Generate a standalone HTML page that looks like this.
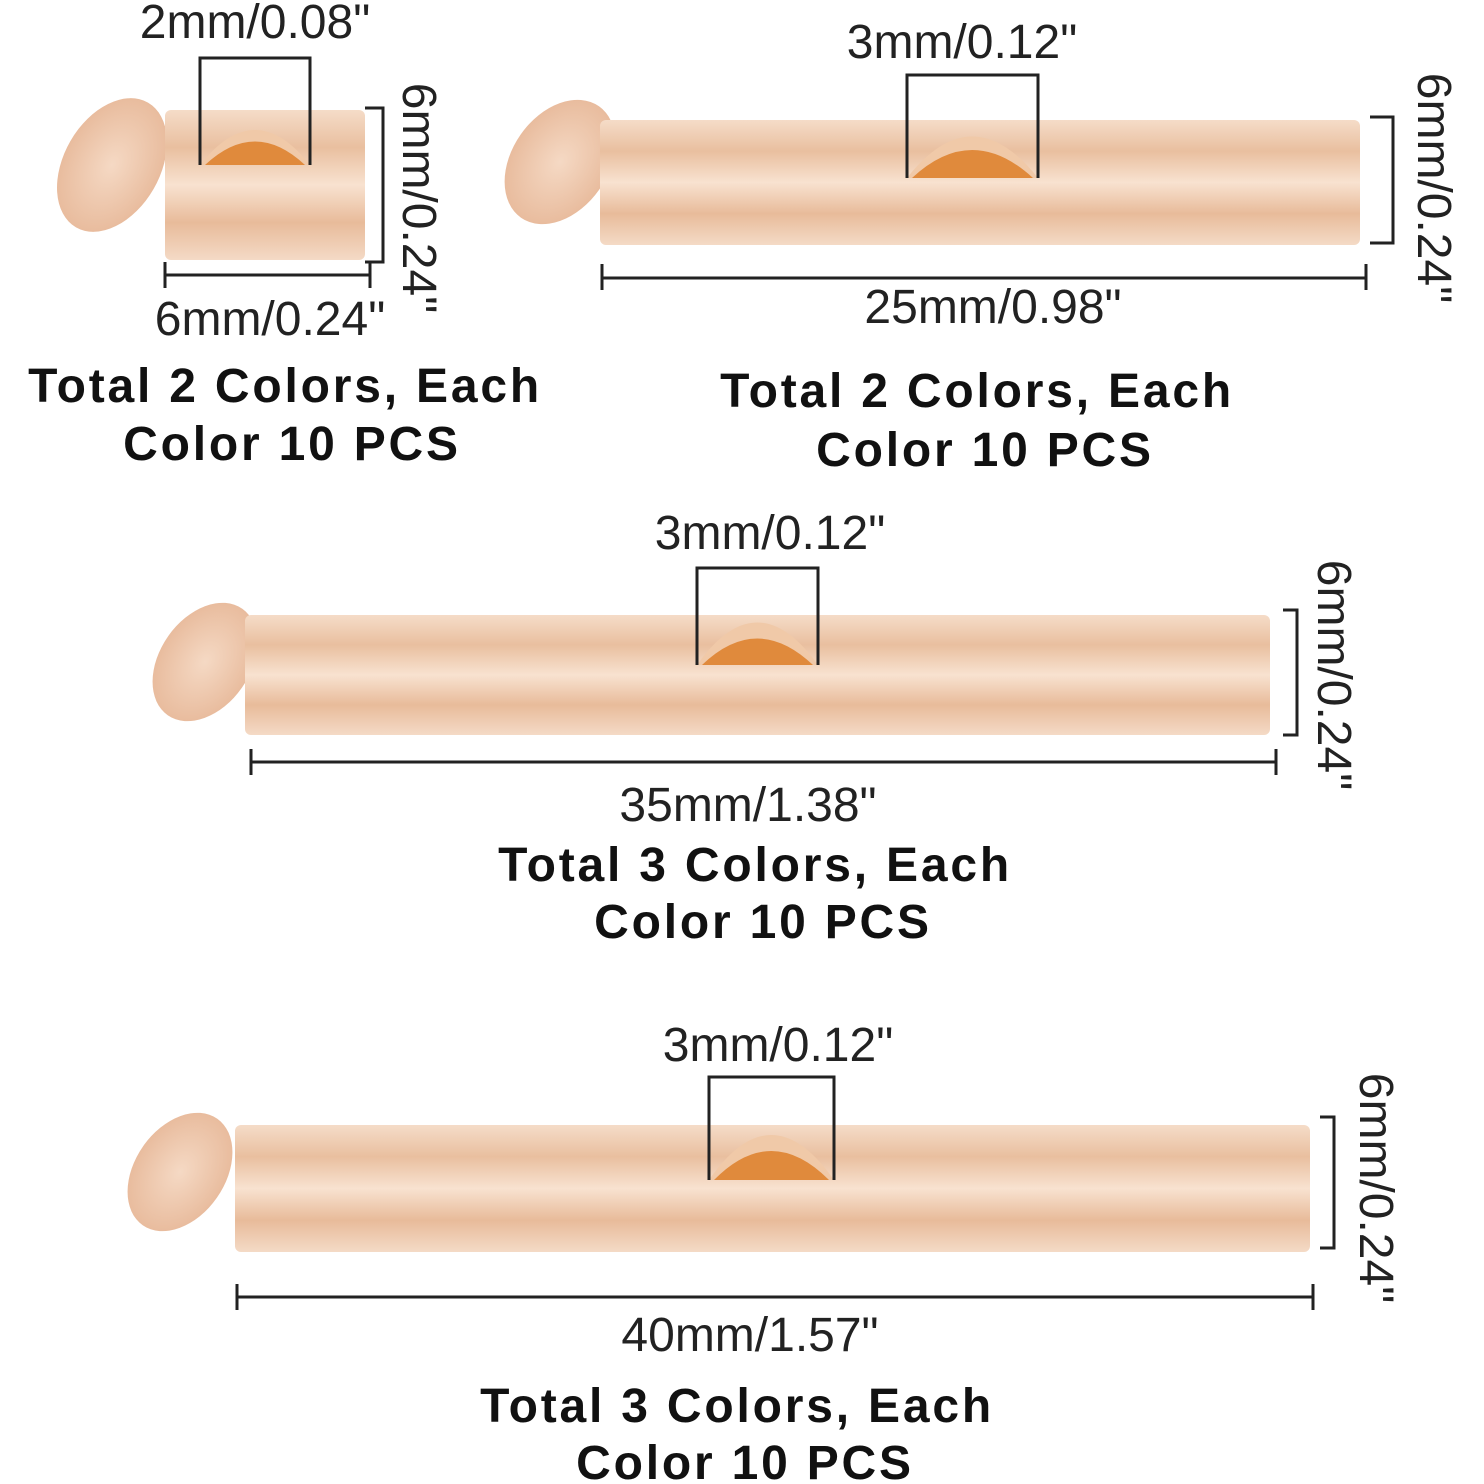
<!DOCTYPE html>
<html><head><meta charset="utf-8"><style>
html,body{margin:0;padding:0;background:#fff;}
svg{display:block}
text{font-family:"Liberation Sans",sans-serif;fill:#222}
.d{font-size:48px}
.b{font-size:48px;font-weight:bold;fill:#111;letter-spacing:2.8px}
.l{stroke:#222;stroke-width:3;fill:none}
</style></head><body>
<svg width="1484" height="1484" viewBox="0 0 1484 1484" xmlns="http://www.w3.org/2000/svg">
<defs>
<linearGradient id="g" x1="0" y1="0" x2="0" y2="1">
<stop offset="0" stop-color="#f5dcc8"/>
<stop offset="0.25" stop-color="#e9bf9f"/>
<stop offset="0.5" stop-color="#f8e2d0"/>
<stop offset="0.75" stop-color="#e8bb9a"/>
<stop offset="1" stop-color="#f4dac6"/>
</linearGradient>
<radialGradient id="dg" cx="0.5" cy="0.5" r="0.6">
<stop offset="0" stop-color="#f5d9c4"/>
<stop offset="1" stop-color="#e6b696"/>
</radialGradient>
</defs>
<rect width="1484" height="1484" fill="#fff"/>

<!-- Piece 1 -->
<ellipse cx="112" cy="165" rx="48" ry="72" transform="rotate(30 112 165)" fill="url(#dg)"/>
<rect x="165" y="110" width="200" height="150" rx="6" fill="url(#g)"/>
<path d="M200 165 Q255 95 310 165 Z" fill="#f0c9a8"/>
<path d="M205 165 Q255 118 305 165 Z" fill="#e08a3c"/>
<path class="l" d="M200 165 V58 H310 V165"/>
<path class="l" d="M365 108 H383 V262 H365"/>
<path class="l" d="M165 262 V288 M165 275 H370 M370 262 V288"/>
<text class="d" x="255" y="38" text-anchor="middle">2mm/0.08"</text>
<text class="d" x="270" y="335" text-anchor="middle">6mm/0.24"</text>
<text class="d" transform="translate(403 198) rotate(90)" text-anchor="middle">6mm/0.24"</text>
<text class="b" x="285" y="402" text-anchor="middle">Total 2 Colors, Each</text>
<text class="b" x="292" y="460" text-anchor="middle">Color 10 PCS</text>

<!-- Piece 2 -->
<ellipse cx="560" cy="162" rx="48" ry="68" transform="rotate(35 560 162)" fill="url(#dg)"/>
<rect x="600" y="120" width="760" height="125" rx="6" fill="url(#g)"/>
<path d="M907 178 Q972 95 1038 178 Z" fill="#f0c9a8"/>
<path d="M912 178 Q972 122 1033 178 Z" fill="#e08a3c"/>
<path class="l" d="M907 178 V75 H1038 V178"/>
<path class="l" d="M1370 117 H1393 V243 H1370"/>
<path class="l" d="M602 264 V290 M602 278 H1366 M1366 264 V290"/>
<text class="d" x="962" y="58" text-anchor="middle">3mm/0.12"</text>
<text class="d" x="993" y="323" text-anchor="middle">25mm/0.98"</text>
<text class="d" transform="translate(1418 188) rotate(90)" text-anchor="middle">6mm/0.24"</text>
<text class="b" x="977" y="407" text-anchor="middle">Total 2 Colors, Each</text>
<text class="b" x="985" y="466" text-anchor="middle">Color 10 PCS</text>

<!-- Piece 3 -->
<ellipse cx="205" cy="662" rx="45" ry="65" transform="rotate(35 205 662)" fill="url(#dg)"/>
<rect x="245" y="615" width="1025" height="120" rx="6" fill="url(#g)"/>
<path d="M697 665 Q757 580 818 665 Z" fill="#f0c9a8"/>
<path d="M702 665 Q757 612 813 665 Z" fill="#e08a3c"/>
<path class="l" d="M697 665 V568 H818 V665"/>
<path class="l" d="M1283 610 H1297 V735 H1283"/>
<path class="l" d="M251 749 V775 M251 762 H1276 M1276 749 V775"/>
<text class="d" x="770" y="549" text-anchor="middle">3mm/0.12"</text>
<text class="d" x="748" y="821" text-anchor="middle">35mm/1.38"</text>
<text class="d" transform="translate(1318 675) rotate(90)" text-anchor="middle">6mm/0.24"</text>
<text class="b" x="755" y="881" text-anchor="middle">Total 3 Colors, Each</text>
<text class="b" x="763" y="938" text-anchor="middle">Color 10 PCS</text>

<!-- Piece 4 -->
<ellipse cx="180" cy="1172" rx="45" ry="65" transform="rotate(35 180 1172)" fill="url(#dg)"/>
<rect x="235" y="1125" width="1075" height="127" rx="6" fill="url(#g)"/>
<path d="M709 1180 Q771 1090 834 1180 Z" fill="#f0c9a8"/>
<path d="M714 1180 Q771 1122 829 1180 Z" fill="#e08a3c"/>
<path class="l" d="M709 1180 V1077 H834 V1180"/>
<path class="l" d="M1320 1117 H1334 V1248 H1320"/>
<path class="l" d="M237 1284 V1310 M237 1297 H1313 M1313 1284 V1310"/>
<text class="d" x="778" y="1061" text-anchor="middle">3mm/0.12"</text>
<text class="d" x="750" y="1351" text-anchor="middle">40mm/1.57"</text>
<text class="d" transform="translate(1360 1188) rotate(90)" text-anchor="middle">6mm/0.24"</text>
<text class="b" x="737" y="1422" text-anchor="middle">Total 3 Colors, Each</text>
<text class="b" x="745" y="1479" text-anchor="middle">Color 10 PCS</text>
</svg>
</body></html>
